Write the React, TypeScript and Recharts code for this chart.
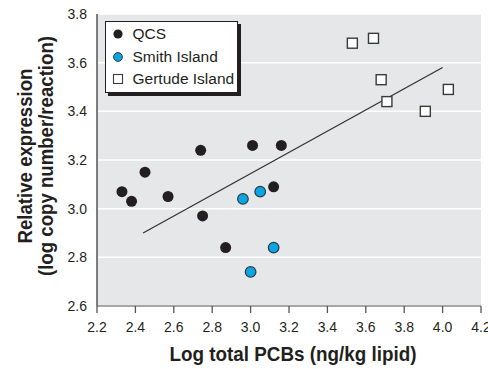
import React from 'react';
import { ScatterChart, Scatter, XAxis, YAxis, CartesianGrid, Label } from 'recharts';

// log total PCBs (x) vs relative expression (y), one list per site
const qcsX = [2.33, 2.38, 2.45, 2.57, 2.74, 2.75, 2.87, 3.01, 3.16, 3.12];
const qcsY = [3.07, 3.03, 3.15, 3.05, 3.24, 2.97, 2.84, 3.26, 3.26, 3.09];
const smithX = [2.96, 3.05, 3.12, 3.0];
const smithY = [3.04, 3.07, 2.84, 2.74];
const gertudeX = [3.53, 3.64, 3.68, 3.71, 3.91, 4.03];
const gertudeY = [3.68, 3.7, 3.53, 3.44, 3.4, 3.49];

// end points of the regression line
const fitX = [2.44, 4.0];
const fitY = [2.9, 3.58];

const xTicks = [2.2, 2.4, 2.6, 2.8, 3.0, 3.2, 3.4, 3.6, 3.8, 4.0, 4.2];
const yTicks = [2.6, 2.8, 3.0, 3.2, 3.4, 3.6, 3.8];

const legendItems = ['QCS', 'Smith Island', 'Gertude Island'];

const toPoints = (xs: number[], ys: number[]) => xs.map((x, i) => ({ x, y: ys[i] }));

const FONT = '"Liberation Sans", Arial, sans-serif';
const INK = '#231f20';
const BLUE = '#0aa5e2';

const Dot = (props: any) => (
  <circle cx={props.cx} cy={props.cy} r={5.5} fill={INK} />
);

const BlueDot = (props: any) => (
  <circle cx={props.cx} cy={props.cy} r={5.3} fill={BLUE} stroke="#2b3a42" strokeWidth={1.2} />
);

const Box = (props: any) => (
  <rect x={props.cx - 5} y={props.cy - 5} width={10} height={10} fill="#fff" stroke="#3a3a3a" strokeWidth={1.4} />
);

const NoMark = () => <g />;

const markerIcon = (i: number) => {
  if (i === 0) return <circle cx={6} cy={6} r={4.6} fill={INK} />;
  if (i === 1) return <circle cx={6} cy={6} r={4.4} fill={BLUE} stroke="#2b3a42" strokeWidth={1} />;
  return <rect x={1.5} y={1.5} width={9} height={9} fill="#fff" stroke="#3a3a3a" strokeWidth={1.1} />;
};

// boxed legend with a hard drop shadow, sitting over the top-left of the plot
const SiteLegend = () => (
  <div
    style={{
      position: 'absolute',
      left: 105,
      top: 21,
      width: 131,
      height: 69,
      border: `1px solid ${INK}`,
      boxShadow: `3px 3px 0 ${INK}`,
      background: '#fff',
      fontFamily: FONT,
      fontSize: 15.5,
      color: INK,
      paddingTop: 1,
      boxSizing: 'content-box',
    }}
  >
    {legendItems.map((name, i) => (
      <div key={name} style={{ display: 'flex', alignItems: 'center', height: 22.5, whiteSpace: 'nowrap' }}>
        <svg width={12} height={12} style={{ marginLeft: 5.5, marginRight: 9, flexShrink: 0 }}>
          {markerIcon(i)}
        </svg>
        <span>{name}</span>
      </div>
    ))}
  </div>
);

const YTitle = (props: any) => {
  const vb = props.viewBox;
  const cy = vb.y + vb.height / 2 - 4;
  return (
    <g fontFamily={FONT} fontWeight="bold" fontSize={21} fill={INK} textAnchor="middle">
      <text x={0} y={0} transform={`translate(32, ${cy}) rotate(-90)`} textLength={175} lengthAdjust="spacingAndGlyphs">
        Relative expression
      </text>
      <text x={0} y={0} transform={`translate(53, ${cy}) rotate(-90)`} textLength={240} lengthAdjust="spacingAndGlyphs">
        (log copy number/reaction)
      </text>
    </g>
  );
};

const XTitle = (props: any) => {
  const vb = props.viewBox;
  return (
    <text
      x={vb.x + vb.width / 2 + 4}
      y={361}
      textAnchor="middle"
      fontFamily={FONT}
      fontWeight="bold"
      fontSize={21}
      fill={INK}
      textLength={247}
      lengthAdjust="spacingAndGlyphs"
    >
      Log total PCBs (ng/kg lipid)
    </text>
  );
};

export default function App() {
  const tickStyle = { fontFamily: FONT, fontSize: 14, fill: INK };

  return (
    <div style={{ position: 'absolute', left: 0, top: 0, width: 488, height: 369, background: '#fff' }}>
      <ScatterChart width={488} height={369} margin={{ top: 14, right: 7, bottom: 0, left: 0 }}>
        <CartesianGrid fill="#e6e7e8" stroke="#ffffff" strokeWidth={1.5} vertical={false} />
        <XAxis
          type="number"
          dataKey="x"
          domain={[2.2, 4.2]}
          ticks={xTicks}
          interval={0}
          height={63}
          tickFormatter={(v: number) => v.toFixed(1)}
          tick={tickStyle}
          tickSize={7}
          tickMargin={9}
          tickLine={{ stroke: '#555', strokeWidth: 1.3 }}
          axisLine={{ stroke: '#8a8a8a', strokeWidth: 1.5 }}
        >
          <Label content={XTitle} />
        </XAxis>
        <YAxis
          type="number"
          dataKey="y"
          domain={[2.6, 3.8]}
          ticks={yTicks}
          interval={0}
          width={97}
          tickFormatter={(v: number) => v.toFixed(1)}
          tick={tickStyle}
          tickLine={false}
          tickSize={6}
          tickMargin={4}
          axisLine={{ stroke: '#555', strokeWidth: 1.5 }}
        >
          <Label content={YTitle} />
        </YAxis>
        <Scatter
          data={toPoints(fitX, fitY)}
          line={{ stroke: '#333', strokeWidth: 1.3 }}
          shape={NoMark}
          legendType="none"
          isAnimationActive={false}
        />
        <Scatter name="QCS" data={toPoints(qcsX, qcsY)} shape={Dot} isAnimationActive={false} />
        <Scatter name="Smith Island" data={toPoints(smithX, smithY)} shape={BlueDot} isAnimationActive={false} />
        <Scatter name="Gertude Island" data={toPoints(gertudeX, gertudeY)} shape={Box} isAnimationActive={false} />
      </ScatterChart>
      <SiteLegend />
    </div>
  );
}
